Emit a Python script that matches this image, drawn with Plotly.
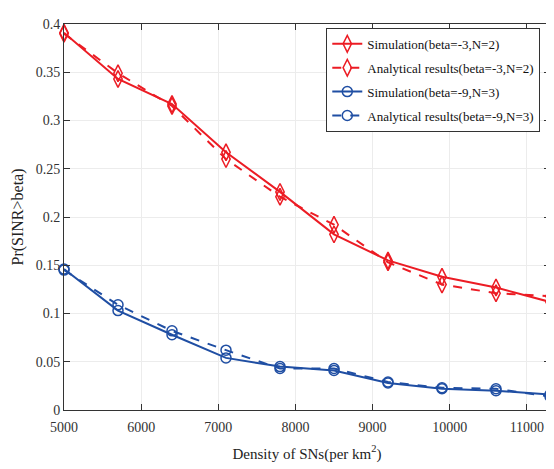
import plotly.graph_objects as go

density = [5000, 5700, 6400, 7100, 7800, 8500, 9200, 9900, 10600, 11300]
sim_red = [0.391, 0.343, 0.317, 0.267, 0.226, 0.182, 0.155, 0.138, 0.127, 0.112]
ana_red = [0.390, 0.349, 0.315, 0.260, 0.221, 0.192, 0.153, 0.130, 0.121, 0.118]
sim_blue = [0.146, 0.103, 0.078, 0.054, 0.045, 0.041, 0.028, 0.022, 0.020, 0.016]
ana_blue = [0.145, 0.109, 0.082, 0.062, 0.043, 0.043, 0.029, 0.023, 0.022, 0.014]
x_ticks = [5000, 6000, 7000, 8000, 9000, 10000, 11000]
y_ticks = [0, 0.05, 0.1, 0.15, 0.2, 0.25, 0.3, 0.35, 0.4]

RED = "#ec1c24"
BLUE = "#1f4ea3"
FONT = "Liberation Serif"

def add(y, name, color, dash, symbol, size, grp):
    fig.add_trace(go.Scatter(x=density, y=y, mode="lines+markers", name=name,
                             legendgroup=grp, cliponaxis=False,
                             line=dict(color=color, width=2, dash=dash),
                             marker=dict(symbol=symbol, size=size, color=color, line=dict(width=1.5))))

fig = go.Figure()
add(sim_red, "Simulation(beta=-3,N=2)", RED, "solid", "diamond-tall-open", 12, "a")
add(ana_red, "Analytical results(beta=-3,N=2)", RED, "dash", "diamond-tall-open", 12, "b")
add(sim_blue, "Simulation(beta=-9,N=3)", BLUE, "solid", "circle-open", 10, "c")
add(ana_blue, "Analytical results(beta=-9,N=3)", BLUE, "dash", "circle-open", 10, "d")

axis_common = dict(showline=True, linecolor="#333333", linewidth=1, mirror="ticks",
                   ticks="inside", ticklen=6, tickcolor="#333333",
                   showgrid=True, gridcolor="#ececec", gridwidth=1, zeroline=False,
                   tickfont=dict(family=FONT, size=14, color="#333333"))

fig.update_layout(
    width=554, height=469,
    margin=dict(l=55, r=12, t=9, b=67),
    paper_bgcolor="white", plot_bgcolor="white",
    font=dict(family=FONT, size=14, color="#222222"),
    xaxis=dict(range=[5000, 11300], tickvals=x_ticks, ticktext=[str(v) for v in x_ticks],
               ticklabelstandoff=4,
               title=dict(text="Density of SNs(per km<sup>2</sup>)", font=dict(family=FONT, size=15), standoff=14),
               **axis_common),
    yaxis=dict(range=[0, 0.4], tickvals=y_ticks, ticktext=[f"{v:g}" for v in y_ticks],
               title=dict(text="Pr(SINR>beta)", font=dict(family=FONT, size=16), standoff=8),
               **axis_common),
    legend=dict(x=0.98, y=0.99, xanchor="right", yanchor="top",
                bgcolor="white", bordercolor="#333333", borderwidth=1,
                font=dict(family=FONT, size=13, color="#111111"),
                tracegroupgap=4, itemwidth=30),
    showlegend=True,
)

fig.write_html("out.html")
